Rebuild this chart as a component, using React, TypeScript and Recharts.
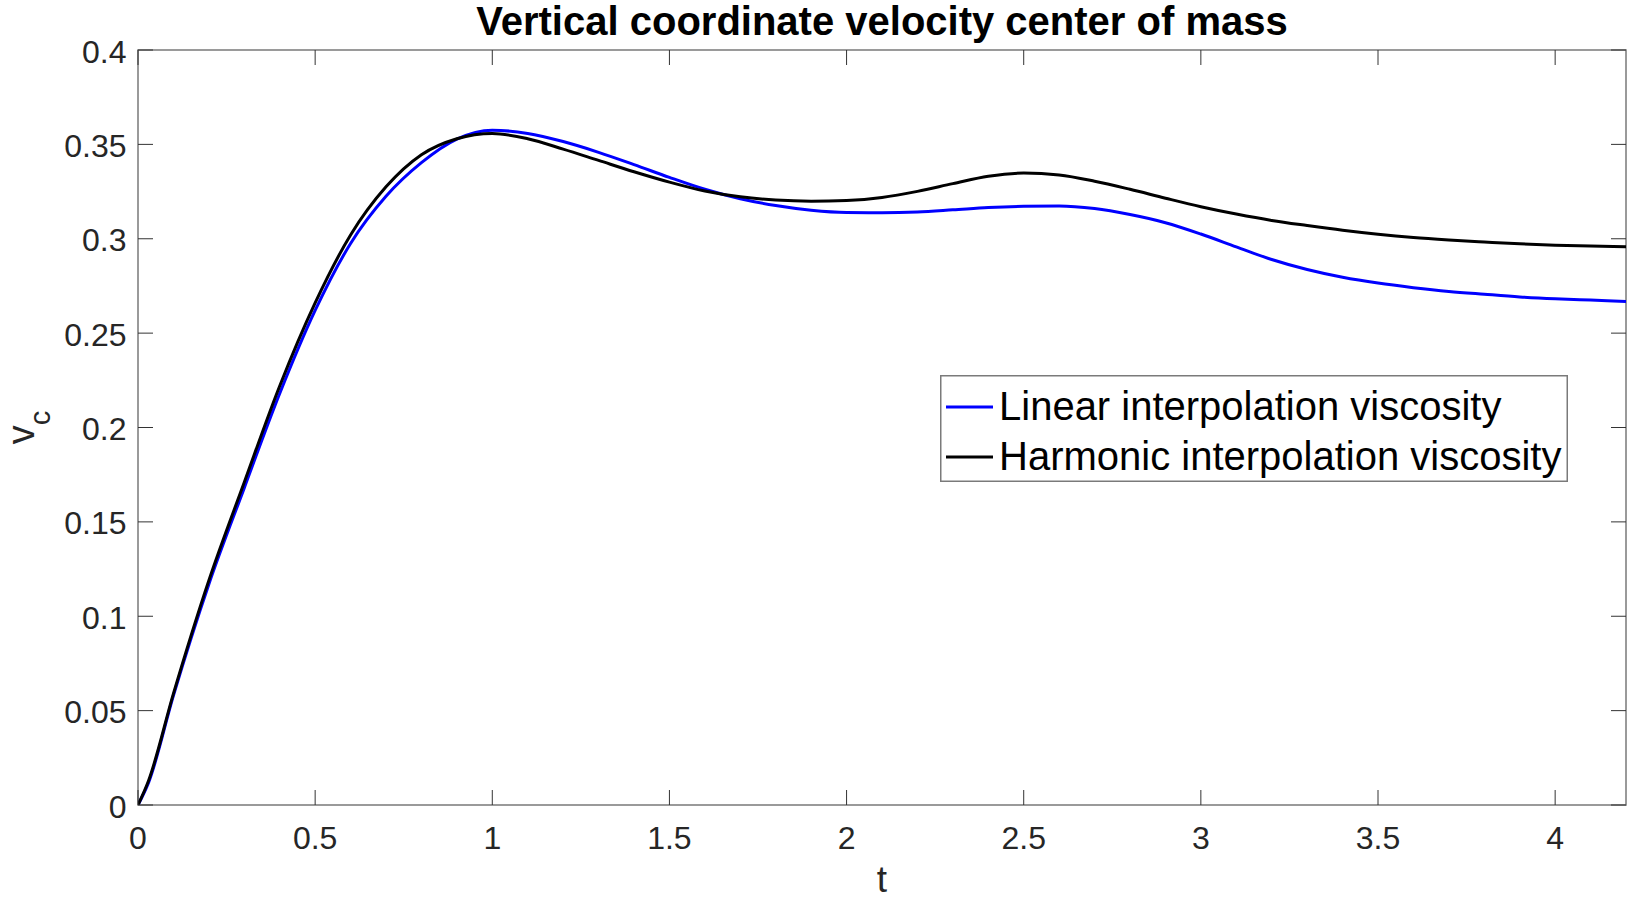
import React from 'react';
import { LineChart, Line, XAxis, YAxis, ReferenceArea, Legend } from 'recharts';

// ---- data ----
const T_VALUES = [0, 0.03, 0.1, 0.2, 0.3, 0.4, 0.5, 0.6, 0.7, 0.8, 0.9, 1.0, 1.1, 1.2, 1.3, 1.4, 1.5, 1.6, 1.7, 1.8, 1.9, 2.0, 2.1, 2.2, 2.3, 2.4, 2.5, 2.6, 2.7, 2.8, 2.9, 3.0, 3.1, 3.2, 3.3, 3.4, 3.5, 3.6, 3.7, 3.8, 3.9, 4.0, 4.1, 4.2];
const LINEAR_VC = [0, 0.012, 0.058, 0.117, 0.168, 0.218, 0.262, 0.2975, 0.3225, 0.3403, 0.3528, 0.3575, 0.3558, 0.3515, 0.3458, 0.3393, 0.3325, 0.3262, 0.3212, 0.3176, 0.3151, 0.3139, 0.3138, 0.3142, 0.3153, 0.3165, 0.3172, 0.3174, 0.316, 0.3128, 0.3085, 0.3025, 0.2957, 0.289, 0.2837, 0.2796, 0.2765, 0.2741, 0.2721, 0.2706, 0.2692, 0.2682, 0.2675, 0.2668];
const HARMONIC_VC = [0, 0.013, 0.059, 0.119, 0.171, 0.222, 0.266, 0.302, 0.3275, 0.3445, 0.353, 0.3558, 0.353, 0.3475, 0.3415, 0.3355, 0.33, 0.3253, 0.3222, 0.3205, 0.3199, 0.3203, 0.3219, 0.3251, 0.3292, 0.3331, 0.3348, 0.3338, 0.3305, 0.3262, 0.3215, 0.317, 0.3131, 0.3097, 0.307, 0.3045, 0.3024, 0.3007, 0.2994, 0.2983, 0.2973, 0.2966, 0.2961, 0.2957];
const X_TICKS = [0, 0.5, 1, 1.5, 2, 2.5, 3, 3.5, 4];
const Y_TICKS = [0, 0.05, 0.1, 0.15, 0.2, 0.25, 0.3, 0.35, 0.4];
const SERIES_KEYS = ['linear', 'harmonic'];
const SERIES_NAMES = ['Linear interpolation viscosity', 'Harmonic interpolation viscosity'];
const SERIES_COLORS = ['#0000ff', '#000000'];
const TITLE = 'Vertical coordinate velocity center of mass';

const data = T_VALUES.map((t, i) => ({ t, linear: LINEAR_VC[i], harmonic: HARMONIC_VC[i] }));

// ---- layout ----
const W = 1639;
const H = 899;
const PLOT_LEFT = 138;
const PLOT_RIGHT = 1626;
const PLOT_TOP = 50;
const PLOT_BOTTOM = 805;
const TICK_LEN = 15;
const FONT = '"Liberation Sans", Arial, Helvetica, sans-serif';
const TICK_COLOR = '#262626';
const BOX_COLOR = '#7a7a7a';

const XTick = (props: any) => {
  const { x, payload } = props;
  return (
    <g>
      <line x1={x} x2={x} y1={PLOT_BOTTOM} y2={PLOT_BOTTOM - TICK_LEN} stroke="#333" strokeWidth={1} />
      <line x1={x} x2={x} y1={PLOT_TOP} y2={PLOT_TOP + TICK_LEN} stroke="#333" strokeWidth={1} />
      <text x={x} y={PLOT_BOTTOM + 43.5} textAnchor="middle" fontSize={32} fontFamily={FONT} fill={TICK_COLOR}>
        {String(payload.value)}
      </text>
    </g>
  );
};

const YTick = (props: any) => {
  const { y, payload } = props;
  return (
    <g>
      <line x1={PLOT_LEFT} x2={PLOT_LEFT + TICK_LEN} y1={y} y2={y} stroke="#333" strokeWidth={1} />
      <line x1={PLOT_RIGHT} x2={PLOT_RIGHT - TICK_LEN} y1={y} y2={y} stroke="#333" strokeWidth={1} />
      <text x={PLOT_LEFT - 11.5} y={y + 12.5} textAnchor="end" fontSize={32} fontFamily={FONT} fill={TICK_COLOR}>
        {String(payload.value)}
      </text>
    </g>
  );
};

const LegendBox = () => (
  <svg width={628} height={107} style={{ display: 'block' }}>
    <rect x={0.75} y={0.75} width={626.5} height={105.5} fill="#ffffff" stroke={BOX_COLOR} strokeWidth={1.5} />
    {SERIES_NAMES.map((name, i) => (
      <g key={name}>
        <line x1={6} x2={53} y1={32 + i * 50} y2={32 + i * 50} stroke={SERIES_COLORS[i]} strokeWidth={3} />
        <text x={59} y={45 + i * 50} fontSize={40} fontFamily={FONT} fill="#000">
          {name}
        </text>
      </g>
    ))}
  </svg>
);

export default function App() {
  return (
    <div style={{ position: 'fixed', left: 0, top: 0, width: W, height: H, background: '#fff' }}>
      <LineChart
        width={W}
        height={H}
        data={data}
        margin={{ top: PLOT_TOP, right: W - PLOT_RIGHT, left: 0, bottom: 0 }}
      >
        <XAxis
          dataKey="t"
          type="number"
          domain={[0, 4.2]}
          ticks={X_TICKS}
          interval={0}
          height={H - PLOT_BOTTOM}
          axisLine={false}
          tickLine={false}
          tickSize={0}
          tickMargin={0}
          tick={<XTick />}
          allowDataOverflow
        />
        <YAxis
          type="number"
          domain={[0, 0.4]}
          ticks={Y_TICKS}
          interval={0}
          width={PLOT_LEFT}
          axisLine={false}
          tickLine={false}
          tickSize={0}
          tickMargin={0}
          tick={<YTick />}
          allowDataOverflow
        />
        <ReferenceArea x1={0} x2={4.2} y1={0} y2={0.4} fill="none" fillOpacity={0} stroke={BOX_COLOR} strokeWidth={1.5} ifOverflow="visible" />
        {SERIES_KEYS.map((k, i) => (
          <Line
            key={k}
            dataKey={k}
            name={SERIES_NAMES[i]}
            type="monotone"
            stroke={SERIES_COLORS[i]}
            strokeWidth={3}
            dot={false}
            activeDot={false}
            isAnimationActive={false}
          />
        ))}
        <Legend
          layout="horizontal"
          verticalAlign="middle"
          align="center"
          wrapperStyle={{ left: 940, top: 375, width: 628, height: 107 }}
          content={() => <LegendBox />}
        />
      </LineChart>
      <svg
        width={W}
        height={H}
        style={{ position: 'absolute', left: 0, top: 0, pointerEvents: 'none' }}
      >
        <text x={(PLOT_LEFT + PLOT_RIGHT) / 2} y={35} textAnchor="middle" fontSize={40} fontWeight="bold" fontFamily={FONT} fill="#000">
          {TITLE}
        </text>
        <text x={(PLOT_LEFT + PLOT_RIGHT) / 2} y={892} textAnchor="middle" fontSize={37} fontFamily={FONT} fill={TICK_COLOR}>
          t
        </text>
        <text transform={`translate(33.5, ${(PLOT_TOP + PLOT_BOTTOM) / 2}) rotate(-90)`} textAnchor="middle" fontSize={38} fontFamily={FONT} fill={TICK_COLOR}>
          v<tspan fontSize={29} dy={16}>c</tspan>
        </text>
      </svg>
    </div>
  );
}
